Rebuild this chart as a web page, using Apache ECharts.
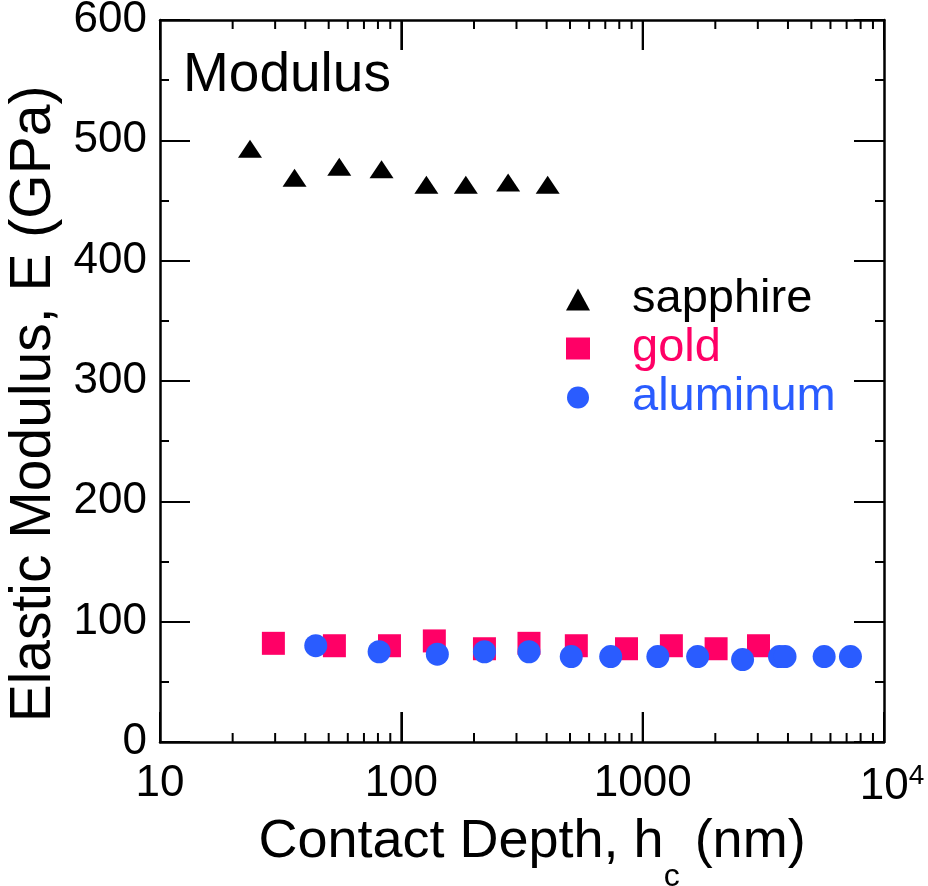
<!DOCTYPE html>
<html>
<head>
<meta charset="utf-8">
<script src="https://cdn.jsdelivr.net/npm/echarts@6/dist/echarts.min.js"></script>
<style>
  html, body { margin: 0; padding: 0; background: #fff; }
  #chart { width: 928px; height: 886px; }
</style>
</head>
<body>
<div id="chart"></div>
<script>
// Contact depth (nm) and elastic modulus (GPa) for each material
const sapphireDepth   = [23.6, 36.1, 55.3, 82.8, 127, 185, 277, 404];
const sapphireModulus = [493, 469, 478, 476, 463, 463, 465, 463];

const goldDepth   = [29.5, 52.8, 89.3, 137, 221, 338, 531, 857, 1315, 2015, 3020];
const goldModulus = [82, 80, 80, 84, 77.5, 82, 80, 77.5, 80, 77.5, 80];

const aluminumDepth   = [44.2, 80.9, 141, 221, 338, 506, 737, 1156, 1690, 2594, 3690, 3890, 5650, 7260];
const aluminumModulus = [80, 75, 73, 75, 75, 71, 71, 71, 71, 68.5, 71, 71, 71, 71];

// Axis ticks
const xMajorTicks = [10, 100, 1000, 10000];
const xMinorTicks = [20, 30, 40, 50, 60, 70, 80, 90,
                     200, 300, 400, 500, 600, 700, 800, 900,
                     2000, 3000, 4000, 5000, 6000, 7000, 8000, 9000];
const yTicks = [0, 100, 200, 300, 400, 500, 600];

const FONT = "'Liberation Sans', Arial, Helvetica, sans-serif";
const BLACK = '#000000';
const GOLD = '#ff0066';
const BLUE = '#2a5cff';
const MAJOR_LEN = 30;
const MINOR_LEN = 9;

const pairs = (xs, ys) => xs.map((x, i) => [x, ys[i]]);

function axisLine(show) {
  return { show: show, onZero: false, lineStyle: { color: BLACK, width: 2.5 } };
}
function tickStyle() {
  return { color: BLACK, width: 2 };
}

function yAxisLayer(position, withLabels) {
  return {
    type: 'value', min: yTicks[0], max: yTicks[yTicks.length - 1], interval: 100, position: position,
    axisLine: axisLine(true),
    axisTick: { show: true, inside: true, length: MAJOR_LEN, lineStyle: tickStyle() },
    minorTick: { show: true, splitNumber: 2, length: MINOR_LEN, lineStyle: tickStyle() },
    axisLabel: withLabels ? { show: true, margin: 13, fontFamily: FONT, fontSize: 44, color: BLACK } : { show: false },
    splitLine: { show: false }
  };
}

const xMain = {
  type: 'log', logBase: 10, min: xMajorTicks[0], max: xMajorTicks[xMajorTicks.length - 1], position: 'bottom',
  axisLine: axisLine(true),
  axisTick: { show: true, inside: true, length: MAJOR_LEN, lineStyle: tickStyle() },
  minorTick: { show: false },
  splitLine: { show: false },
  axisLabel: {
    show: true, margin: 20, fontFamily: FONT, fontSize: 44, color: BLACK,
    formatter: v => v >= 10000 ? '{pad|}{b|10}{sup|4}' : '{b|' + v + '}',
    rich: {
      b:   { fontFamily: FONT, fontSize: 44, color: BLACK },
      sup: { fontFamily: FONT, fontSize: 28, color: BLACK, verticalAlign: 'top', padding: [0, 0, 22, 0] },
      pad: { width: 16 }
    }
  },
  name: '{t|Contact Depth, h}{sub|c}{t| (nm)}',
  nameLocation: 'middle',
  nameGap: 73,
  nameTextStyle: {
    padding: [0, 0, 0, 20],
    rich: {
      t:   { fontFamily: FONT, fontSize: 54, color: BLACK, verticalAlign: 'top' },
      sub: { fontFamily: FONT, fontSize: 32, color: BLACK, verticalAlign: 'top', padding: [46, 0, 0, 0] }
    }
  }
};

// Mirror axis along the top edge of the frame
const xTop = {
  type: 'log', logBase: 10, min: xMajorTicks[0], max: xMajorTicks[xMajorTicks.length - 1], position: 'top',
  axisLine: axisLine(true),
  axisTick: { show: true, inside: true, length: MAJOR_LEN, lineStyle: tickStyle() },
  minorTick: { show: false },
  splitLine: { show: false },
  axisLabel: { show: false }
};

const yLeft = yAxisLayer('left', true);
yLeft.name = 'Elastic Modulus, E (GPa)';
yLeft.nameLocation = 'middle';
yLeft.nameGap = 80;
yLeft.nameTextStyle = { fontFamily: FONT, fontSize: 57, color: BLACK, padding: [0, 46, 0, 0] };

const chart = echarts.init(document.getElementById('chart'));

chart.setOption({
  animation: false,
  grid: { left: 160, right: 44, top: 20, bottom: 144, containLabel: false, outerBoundsMode: 'none' },
  title: {
    text: 'Modulus', left: 178, top: 43,
    textStyle: { fontFamily: FONT, fontSize: 55, fontWeight: 'normal', color: BLACK }
  },
  legend: {
    orient: 'vertical', left: 561, top: 271,
    itemWidth: 24, itemHeight: 22, itemGap: 2,
    textStyle: { fontFamily: FONT, fontSize: 47, padding: [0, 0, 0, 37] },
    data: [
      { name: 'sapphire', icon: 'triangle', textStyle: { color: BLACK } },
      { name: 'gold', icon: 'rect', textStyle: { color: GOLD } },
      { name: 'aluminum', icon: 'circle', textStyle: { color: BLUE } }
    ]
  },
  xAxis: [xMain, xTop],
  yAxis: [yLeft, yAxisLayer('right', false)],
  series: [
    {
      name: 'sapphire', type: 'scatter', symbol: 'triangle', symbolSize: [24, 18],
      itemStyle: { color: BLACK, opacity: 1 }, data: pairs(sapphireDepth, sapphireModulus)
    },
    {
      name: 'gold', type: 'scatter', symbol: 'rect', symbolSize: 23,
      itemStyle: { color: GOLD, opacity: 1 }, data: pairs(goldDepth, goldModulus)
    },
    {
      name: 'aluminum', type: 'scatter', symbol: 'circle', symbolSize: 23,
      itemStyle: { color: BLUE, opacity: 1 }, data: pairs(aluminumDepth, aluminumModulus)
    }
  ]
});

// Inward tick marks on the bottom and top frame edges, positioned through the log x scale
const finder = { xAxisIndex: 0, yAxisIndex: 0 };
const tickMarks = [];
xMajorTicks.map(v => [v, MAJOR_LEN]).concat(xMinorTicks.map(v => [v, MINOR_LEN])).forEach(([v, len]) => {
  const bottom = chart.convertToPixel(finder, [v, yTicks[0]]);
  const top = chart.convertToPixel(finder, [v, yTicks[yTicks.length - 1]]);
  if (!bottom || !top) return;
  tickMarks.push(
    { type: 'rect', silent: true, z: 100, shape: { x: bottom[0] - 1, y: bottom[1] - len, width: 2, height: len }, style: { fill: BLACK } },
    { type: 'rect', silent: true, z: 100, shape: { x: top[0] - 1, y: top[1], width: 2, height: len }, style: { fill: BLACK } }
  );
});
chart.setOption({ graphic: { elements: tickMarks } });
</script>
</body>
</html>
